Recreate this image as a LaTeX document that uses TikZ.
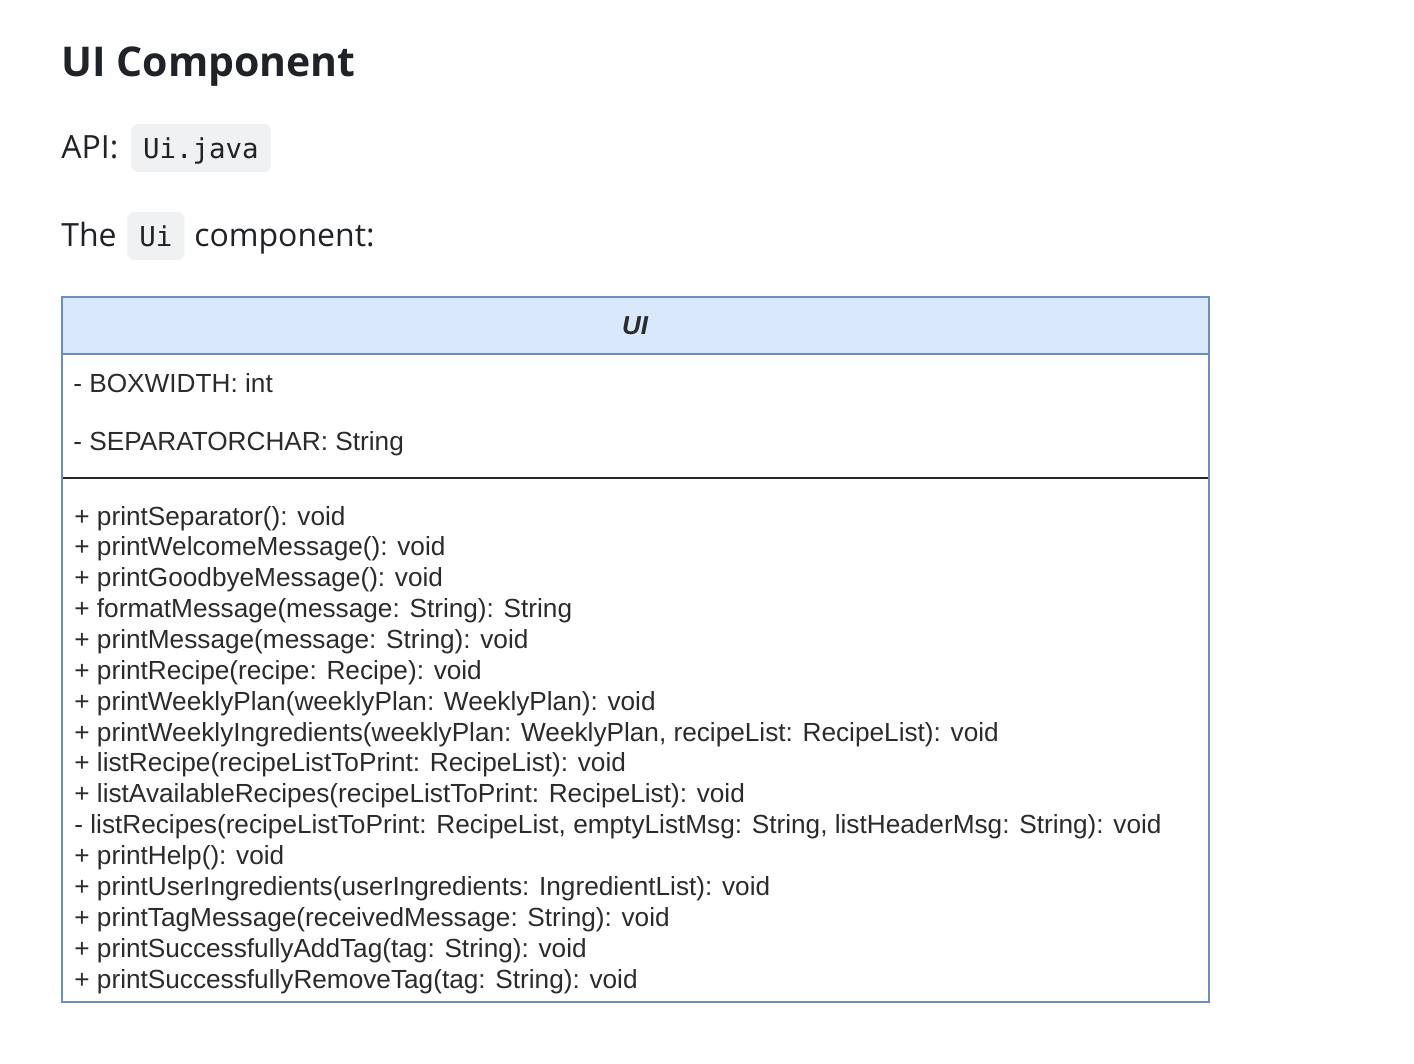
\documentclass[tikz,border=0pt]{standalone}
\usepackage{fontspec}
\setmainfont{Open Sans}
\setsansfont{Liberation Sans}
\setmonofont{DejaVu Sans Mono}
\usetikzlibrary{positioning}

\definecolor{ghtext}{HTML}{1F2328}
\definecolor{codebg}{HTML}{EFF1F3}
\definecolor{umlfill}{HTML}{DAE8FC}
\definecolor{umlline}{HTML}{6C8EBF}
\definecolor{umltext}{HTML}{2B2B2B}

\tikzset{
  mdtext/.style={anchor=west, inner sep=0pt, text height=13pt, text depth=2pt,
    text=ghtext, font=\fontsize{16}{19}\selectfont},
  code/.style={fill=codebg, rounded corners=3pt, inner xsep=6pt, inner ysep=0pt,
    minimum height=24pt, text height=12pt, text depth=1pt,
    text=ghtext, font=\ttfamily\fontsize{13.7}{16}\selectfont},
  umlitem/.style={anchor=west, inner sep=0pt, text height=10.5pt, text depth=1.5pt,
    text=umltext, font=\sffamily\fontsize{13.1}{15}\selectfont}
}

\begin{document}
\begin{tikzpicture}[x=0.5pt, y=-0.5pt]
\useasboundingbox (0,0) rectangle (1414,1064);

%Heading
\node[mdtext, text height=18pt, text depth=2pt, font=\bfseries\fontsize{20.5}{25}\selectfont] (title) at (61,61) {UI Component};
\node[mdtext] (api) at (61,148) {API:};
\node[code, right=6pt of api] (apifile) {Ui.java};
\node[mdtext] (the) at (61,236) {The};
\node[code, right=5pt of the] (uicode) {Ui};
\node[mdtext, right=4.5pt of uicode] (comp) {component:};

%Class box
\begin{scope}
  \coordinate (boxnw) at (62,297);
  \coordinate (boxse) at (1209,1002);
  \fill[white] (boxnw) rectangle (boxse);
  \draw[umlline, fill=umlfill, line width=1pt] (boxnw) rectangle (1209,354);
  \draw[black!85, line width=1.1pt] (62,478) -- (1209,478);
  \draw[umlline, line width=1pt] (boxnw) rectangle (boxse);
  \node[umlitem, anchor=center, font=\sffamily\bfseries\itshape\fontsize{13}{15}\selectfont] (classname) at (635,326) {UI};
\end{scope}

%Fields
\node[umlitem] (f1) at (73,384) {- BOXWIDTH: int};
\node[umlitem] (f2) at (73,441) {- SEPARATORCHAR: String};

%Methods
\foreach \m [count=\i from 0] in {
    {+ printSeparator(): void},
    {+ printWelcomeMessage(): void},
    {+ printGoodbyeMessage(): void},
    {+ formatMessage(message: String): String},
    {+ printMessage(message: String): void},
    {+ printRecipe(recipe: Recipe): void},
    {+ printWeeklyPlan(weeklyPlan: WeeklyPlan): void},
    {+ printWeeklyIngredients(weeklyPlan: WeeklyPlan, recipeList: RecipeList): void},
    {+ listRecipe(recipeListToPrint: RecipeList): void},
    {+ listAvailableRecipes(recipeListToPrint: RecipeList): void},
    {- listRecipes(recipeListToPrint: RecipeList, emptyListMsg: String, listHeaderMsg: String): void},
    {+ printHelp(): void},
    {+ printUserIngredients(userIngredients: IngredientList): void},
    {+ printTagMessage(receivedMessage: String): void},
    {+ printSuccessfullyAddTag(tag: String): void},
    {+ printSuccessfullyRemoveTag(tag: String): void}} {
  \node[umlitem] (m\i) at (74, 516+30.87*\i) {\m};
}
\end{tikzpicture}
\end{document}
